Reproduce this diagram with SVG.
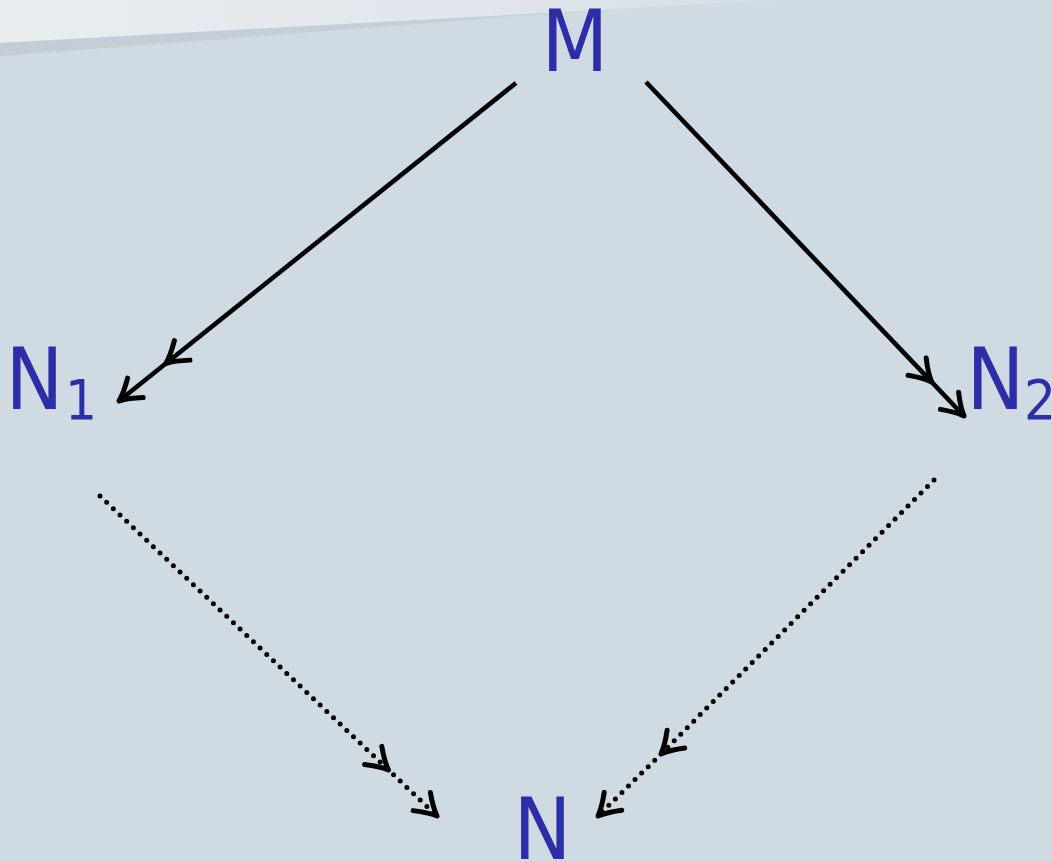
<svg xmlns="http://www.w3.org/2000/svg" width="1052" height="861" viewBox="0 0 1052 861">
  <defs>
    <linearGradient id="band" x1="0" y1="0" x2="1" y2="0">
      <stop offset="0" stop-color="#e8edf0"/>
      <stop offset="0.6" stop-color="#e0e6eb"/>
      <stop offset="1" stop-color="#d6dee5"/>
    </linearGradient>
    <linearGradient id="shade" x1="0" y1="0" x2="1" y2="0">
      <stop offset="0" stop-color="#c4cdd5"/>
      <stop offset="0.7" stop-color="#c6cfd7"/>
      <stop offset="1" stop-color="#cdd7e0"/>
    </linearGradient>
    <!-- open arrowhead with slightly curved arms, tip at origin -->
    <marker id="head" markerUnits="userSpaceOnUse" markerWidth="40" markerHeight="40"
            viewBox="-26 -20 32 40" refX="0" refY="0" orient="auto" overflow="visible">
      <path d="M-21,-12.5 Q-9,-3.5 0,0 Q-9,3.5 -21,12.5" fill="none" stroke="#000" stroke-width="5"
            stroke-linecap="round" stroke-linejoin="round" stroke-dasharray="none"/>
    </marker>
  </defs>
  <style>
    .lbl { font-family: "DejaVu Sans Condensed", "DejaVu Sans", sans-serif; font-stretch: condensed; fill: #2d2da8; font-size: 86px; }
    .sub { font-size: 56px; }
    .arr { fill: none; stroke: #000; stroke-width: 4.6; marker-mid: url(#head); marker-end: url(#head); }
    .dot { stroke-width: 5; stroke-dasharray: 0 9.2; stroke-linecap: round; }
  </style>

  <!-- slide background with header band -->
  <rect width="1052" height="861" fill="#cfdae3"/>
  <polygon points="0,43 620,8.6 0,56" fill="url(#shade)"/>
  <polygon points="0,0 776,0 0,42.7" fill="url(#band)"/>

  <g id="connectors">
    <polyline class="arr" points="516,83 165.8,363.5 119,401"/>
    <polyline class="arr" points="646,82 931.6,381.9 964,416"/>
    <polyline class="arr dot" points="100,496 388.4,769.9 437,816"/>
    <polyline class="arr dot" points="934,480 661,754 598,816"/>
  </g>

  <g id="node-M">
    <text class="lbl" x="575" y="71" text-anchor="middle">M</text>
  </g>
  <g id="node-N1">
    <text class="lbl" x="5.5" y="409">N<tspan class="sub" x="65" y="419">1</tspan></text>
  </g>
  <g id="node-N2">
    <text class="lbl" x="966.5" y="409">N<tspan class="sub" x="1024" y="419">2</tspan></text>
  </g>
  <g id="node-N">
    <text class="lbl" x="513.5" y="859">N</text>
  </g>
</svg>
